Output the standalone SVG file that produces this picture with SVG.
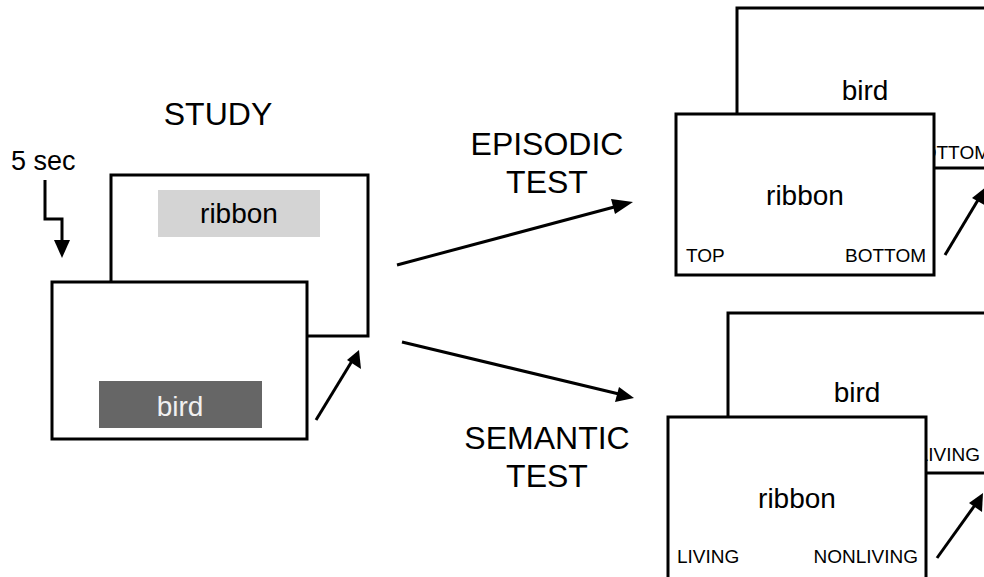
<svg xmlns="http://www.w3.org/2000/svg" width="984" height="577" viewBox="0 0 984 577">
<style>
.card{fill:#fff;stroke:#000;stroke-width:3}
.t{font-family:"Liberation Sans",Arial,sans-serif;fill:#000}
.big{font-size:32px;text-anchor:middle}
.word{font-size:28px;text-anchor:middle}
.small{font-size:19px}
.ln{stroke:#000;stroke-width:3;fill:none}
</style>
<rect width="984" height="577" fill="#fff"/>
<g id="labels">
<text class="t big" x="218" y="125">STUDY</text>
<text class="t" x="11" y="170" font-size="27">5 sec</text>
<text class="t big" x="547" y="155">EPISODIC</text>
<text class="t big" x="547" y="193">TEST</text>
<text class="t big" x="547" y="449">SEMANTIC</text>
<text class="t big" x="547" y="487">TEST</text>
</g>
<g id="study-back">
<rect class="card" x="111" y="175" width="257" height="161"/>
<rect x="158" y="190" width="162" height="47" fill="#d4d4d4"/>
<text class="t word" x="239" y="223">ribbon</text>
</g>
<g id="study-front">
<rect class="card" x="52" y="282" width="255" height="157"/>
<rect x="99" y="381" width="163" height="47" fill="#666"/>
<text class="t word" x="180" y="416" style="fill:#f0f0f0">bird</text>
</g>
<g id="episodic-back">
<rect class="card" x="737" y="8" width="262" height="160"/>
<text class="t word" x="865" y="100">bird</text>
<text class="t small" x="990" y="159" text-anchor="end">BOTTOM</text>
</g>
<g id="episodic-front">
<rect class="card" x="676" y="114" width="258" height="161"/>
<text class="t word" x="805" y="205">ribbon</text>
<text class="t small" x="686" y="262">TOP</text>
<text class="t small" x="926" y="262" text-anchor="end">BOTTOM</text>
</g>
<g id="semantic-back">
<rect class="card" x="728" y="313" width="262" height="160"/>
<text class="t word" x="857" y="402">bird</text>
<text class="t small" x="980" y="461" text-anchor="end">NONLIVING</text>
</g>
<g id="semantic-front">
<rect class="card" x="668" y="417" width="258" height="165"/>
<text class="t word" x="797" y="508">ribbon</text>
<text class="t small" x="677" y="563">LIVING</text>
<text class="t small" x="918" y="563" text-anchor="end">NONLIVING</text>
</g>
<g id="connectors">
<path class="ln" d="M45,180 V219 H62 V244"/>
<path d="M54,240 L70,240 L62,258 Z" fill="#000"/>
<line class="ln" x1="316" y1="420" x2="352" y2="361"/>
<path d="M359,350 L361,369 L347,360 Z" fill="#000"/>
<line class="ln" x1="397" y1="265" x2="618" y2="206"/>
<path d="M633,202 L615,214 L611,199 Z" fill="#000"/>
<line class="ln" x1="402" y1="342" x2="619" y2="394"/>
<path d="M634,398 L615,402 L619,387 Z" fill="#000"/>
<line class="ln" x1="945" y1="255" x2="978" y2="200"/>
<path d="M986,187 L986,206 L972,198 Z" fill="#000"/>
<line class="ln" x1="937" y1="558" x2="975" y2="505"/>
<path d="M983,493 L982,512 L969,503 Z" fill="#000"/>
</g>
</svg>
